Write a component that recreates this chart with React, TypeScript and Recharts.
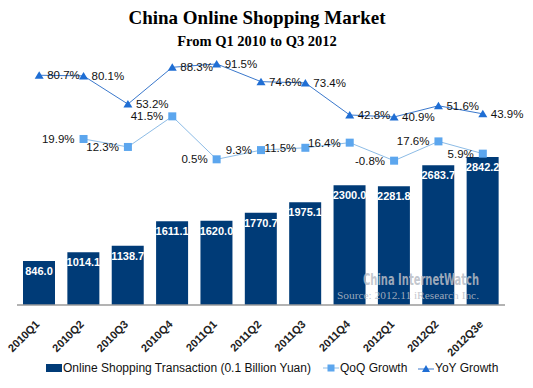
import React from 'react';
import { ComposedChart, Bar, Line, XAxis, YAxis, LabelList, Legend, Customized } from 'recharts';

const quarters = ['2010Q1', '2010Q2', '2010Q3', '2010Q4', '2011Q1', '2011Q2', '2011Q3', '2011Q4', '2012Q1', '2012Q2', '2012Q3e'];
const transaction = [846.0, 1014.1, 1138.7, 1611.1, 1620.0, 1770.7, 1975.1, 2300.0, 2281.8, 2683.7, 2842.2];
const qoqGrowth: (number | null)[] = [null, 19.9, 12.3, 41.5, 0.5, 9.3, 11.5, 16.4, -0.8, 17.6, 5.9];
const yoyGrowth = [80.7, 80.1, 53.2, 88.3, 91.5, 74.6, 73.4, 42.8, 40.9, 51.6, 43.9];

const data = quarters.map((q, i) => ({
  quarter: q,
  transaction: transaction[i],
  qoq: qoqGrowth[i],
  yoy: yoyGrowth[i],
}));

const BAR = '#003B77';
const QOQ_DOT = '#5CA6EE';
const QOQ_LINE = '#8DBCE6';
const YOY_DOT = '#1F6ED4';
const YOY_LINE = '#3A78CC';
const SANS = '"Liberation Sans", Arial, sans-serif';
const SERIF = '"Liberation Serif", "Times New Roman", serif';

const pct = (v: any) => (v == null ? '' : `${Number(v).toFixed(1)}%`);
const num = (v: any) => Number(v).toFixed(1);

const Tick = (props: any) => {
  const { x, y, payload } = props;
  return (
    <g transform={`translate(${x + 1},${y + 20})`}>
      <text textAnchor="end" transform="rotate(-45)" fontSize={11} fontWeight="bold" fill="#222" fontFamily={SANS}>
        {payload.value}
      </text>
    </g>
  );
};

const Square = (props: any) => {
  const { cx, cy, value } = props;
  if (value == null || cy == null) return null;
  return <rect x={cx - 4} y={cy - 4} width={8} height={8} fill={QOQ_DOT} />;
};

const Triangle = (props: any) => {
  const { cx, cy } = props;
  if (cy == null) return null;
  return <path d={`M${cx - 4.5},${cy + 3.5} L${cx},${cy - 4} L${cx + 4.5},${cy + 3.5} Z`} fill={YOY_DOT} />;
};

const Titles = () => (
  <g>
    <text x={257} y={24} textAnchor="middle" fontFamily={SERIF} fontWeight="bold" fontSize={19} fill="#000">
      China Online Shopping Market
    </text>
    <text x={257} y={46} textAnchor="middle" fontFamily={SERIF} fontWeight="bold" fontSize={14.5} fill="#000">
      From Q1 2010 to Q3 2012
    </text>
  </g>
);

const legendText: React.CSSProperties = { position: 'absolute', top: 0, lineHeight: '14px', fontFamily: SANS, fontSize: 12, color: '#111', whiteSpace: 'nowrap' };

const LegendContent = () => (
  <div style={{ position: 'relative', width: 533, height: 14 }}>
    <span style={{ position: 'absolute', left: 46, top: 3, width: 16, height: 8, background: BAR }} />
    <span style={{ ...legendText, left: 63 }}>Online Shopping Transaction (0.1 Billion Yuan)</span>
    <svg width={16} height={14} style={{ position: 'absolute', left: 323, top: 0 }}>
      <line x1={0} y1={7} x2={16} y2={7} stroke={QOQ_LINE} strokeWidth={1} />
      <rect x={4.5} y={3.5} width={7} height={7} fill={QOQ_DOT} />
    </svg>
    <span style={{ ...legendText, left: 340 }}>QoQ Growth</span>
    <svg width={16} height={14} style={{ position: 'absolute', left: 418, top: 0 }}>
      <line x1={0} y1={8} x2={16} y2={8} stroke={YOY_LINE} strokeWidth={1} />
      <path d="M4,11 L8,4 L12,11 Z" fill={YOY_DOT} />
    </svg>
    <span style={{ ...legendText, left: 435 }}>YoY Growth</span>
  </div>
);

export default function App() {
  return (
    <div style={{ position: 'absolute', left: 0, top: 0, width: 533, height: 388, background: '#fff' }}>
      <ComposedChart width={533} height={388} data={data} margin={{ top: 50, right: 28, bottom: 0, left: 17 }}>
        <XAxis
          dataKey="quarter"
          height={83}
          tickLine={false}
          tickSize={0}
          tickMargin={0}
          interval={0}
          axisLine={{ stroke: '#9a9a9a', strokeWidth: 1.5 }}
          tick={<Tick />}
        />
        <YAxis yAxisId="amt" hide domain={[0, 4900]} />
        <YAxis yAxisId="pct" hide domain={[-138.5, 104.8]} />
        <Bar yAxisId="amt" dataKey="transaction" fill={BAR} barSize={32} isAnimationActive={false}>
          <LabelList dataKey="transaction" position="insideTop" offset={6} formatter={num} fill="#fff" fontSize={11} fontWeight="bold" fontFamily={SANS} />
        </Bar>
        <Customized component={Titles} />
        <Line yAxisId="pct" dataKey="qoq" stroke={QOQ_LINE} strokeWidth={1} dot={<Square />} activeDot={false} isAnimationActive={false}>
          <LabelList dataKey="qoq" position="left" offset={9} formatter={pct} fill="#111" fontSize={11.5} fontFamily={SANS} />
        </Line>
        <Line yAxisId="pct" dataKey="yoy" stroke={YOY_LINE} strokeWidth={1} dot={<Triangle />} activeDot={false} isAnimationActive={false}>
          <LabelList dataKey="yoy" position="right" offset={8} formatter={pct} fill="#111" fontSize={11.5} fontFamily={SANS} />
        </Line>
        <Legend layout="horizontal" align="center" verticalAlign="middle" wrapperStyle={{ top: 361, left: 0, width: 533, height: 14 }} content={<LegendContent />} />
      </ComposedChart>
      <svg width={533} height={388} style={{ position: 'absolute', left: 0, top: 0, pointerEvents: 'none' }}>
        <text x={363} y={285} fontFamily={'"Liberation Sans Narrow", "DejaVu Sans Condensed", sans-serif'} fontWeight="bold" fontSize={15} fill="#b9bdc6" fillOpacity={0.85} textLength={116} lengthAdjust="spacingAndGlyphs">
          China InternetWatch
        </text>
        <text x={337} y={299} fontFamily={SERIF} fontSize={11} fill="#b9bdc6" fillOpacity={0.85} textLength={142} lengthAdjust="spacingAndGlyphs">
          Source: 2012.11 iResearch Inc.
        </text>
      </svg>
    </div>
  );
}
